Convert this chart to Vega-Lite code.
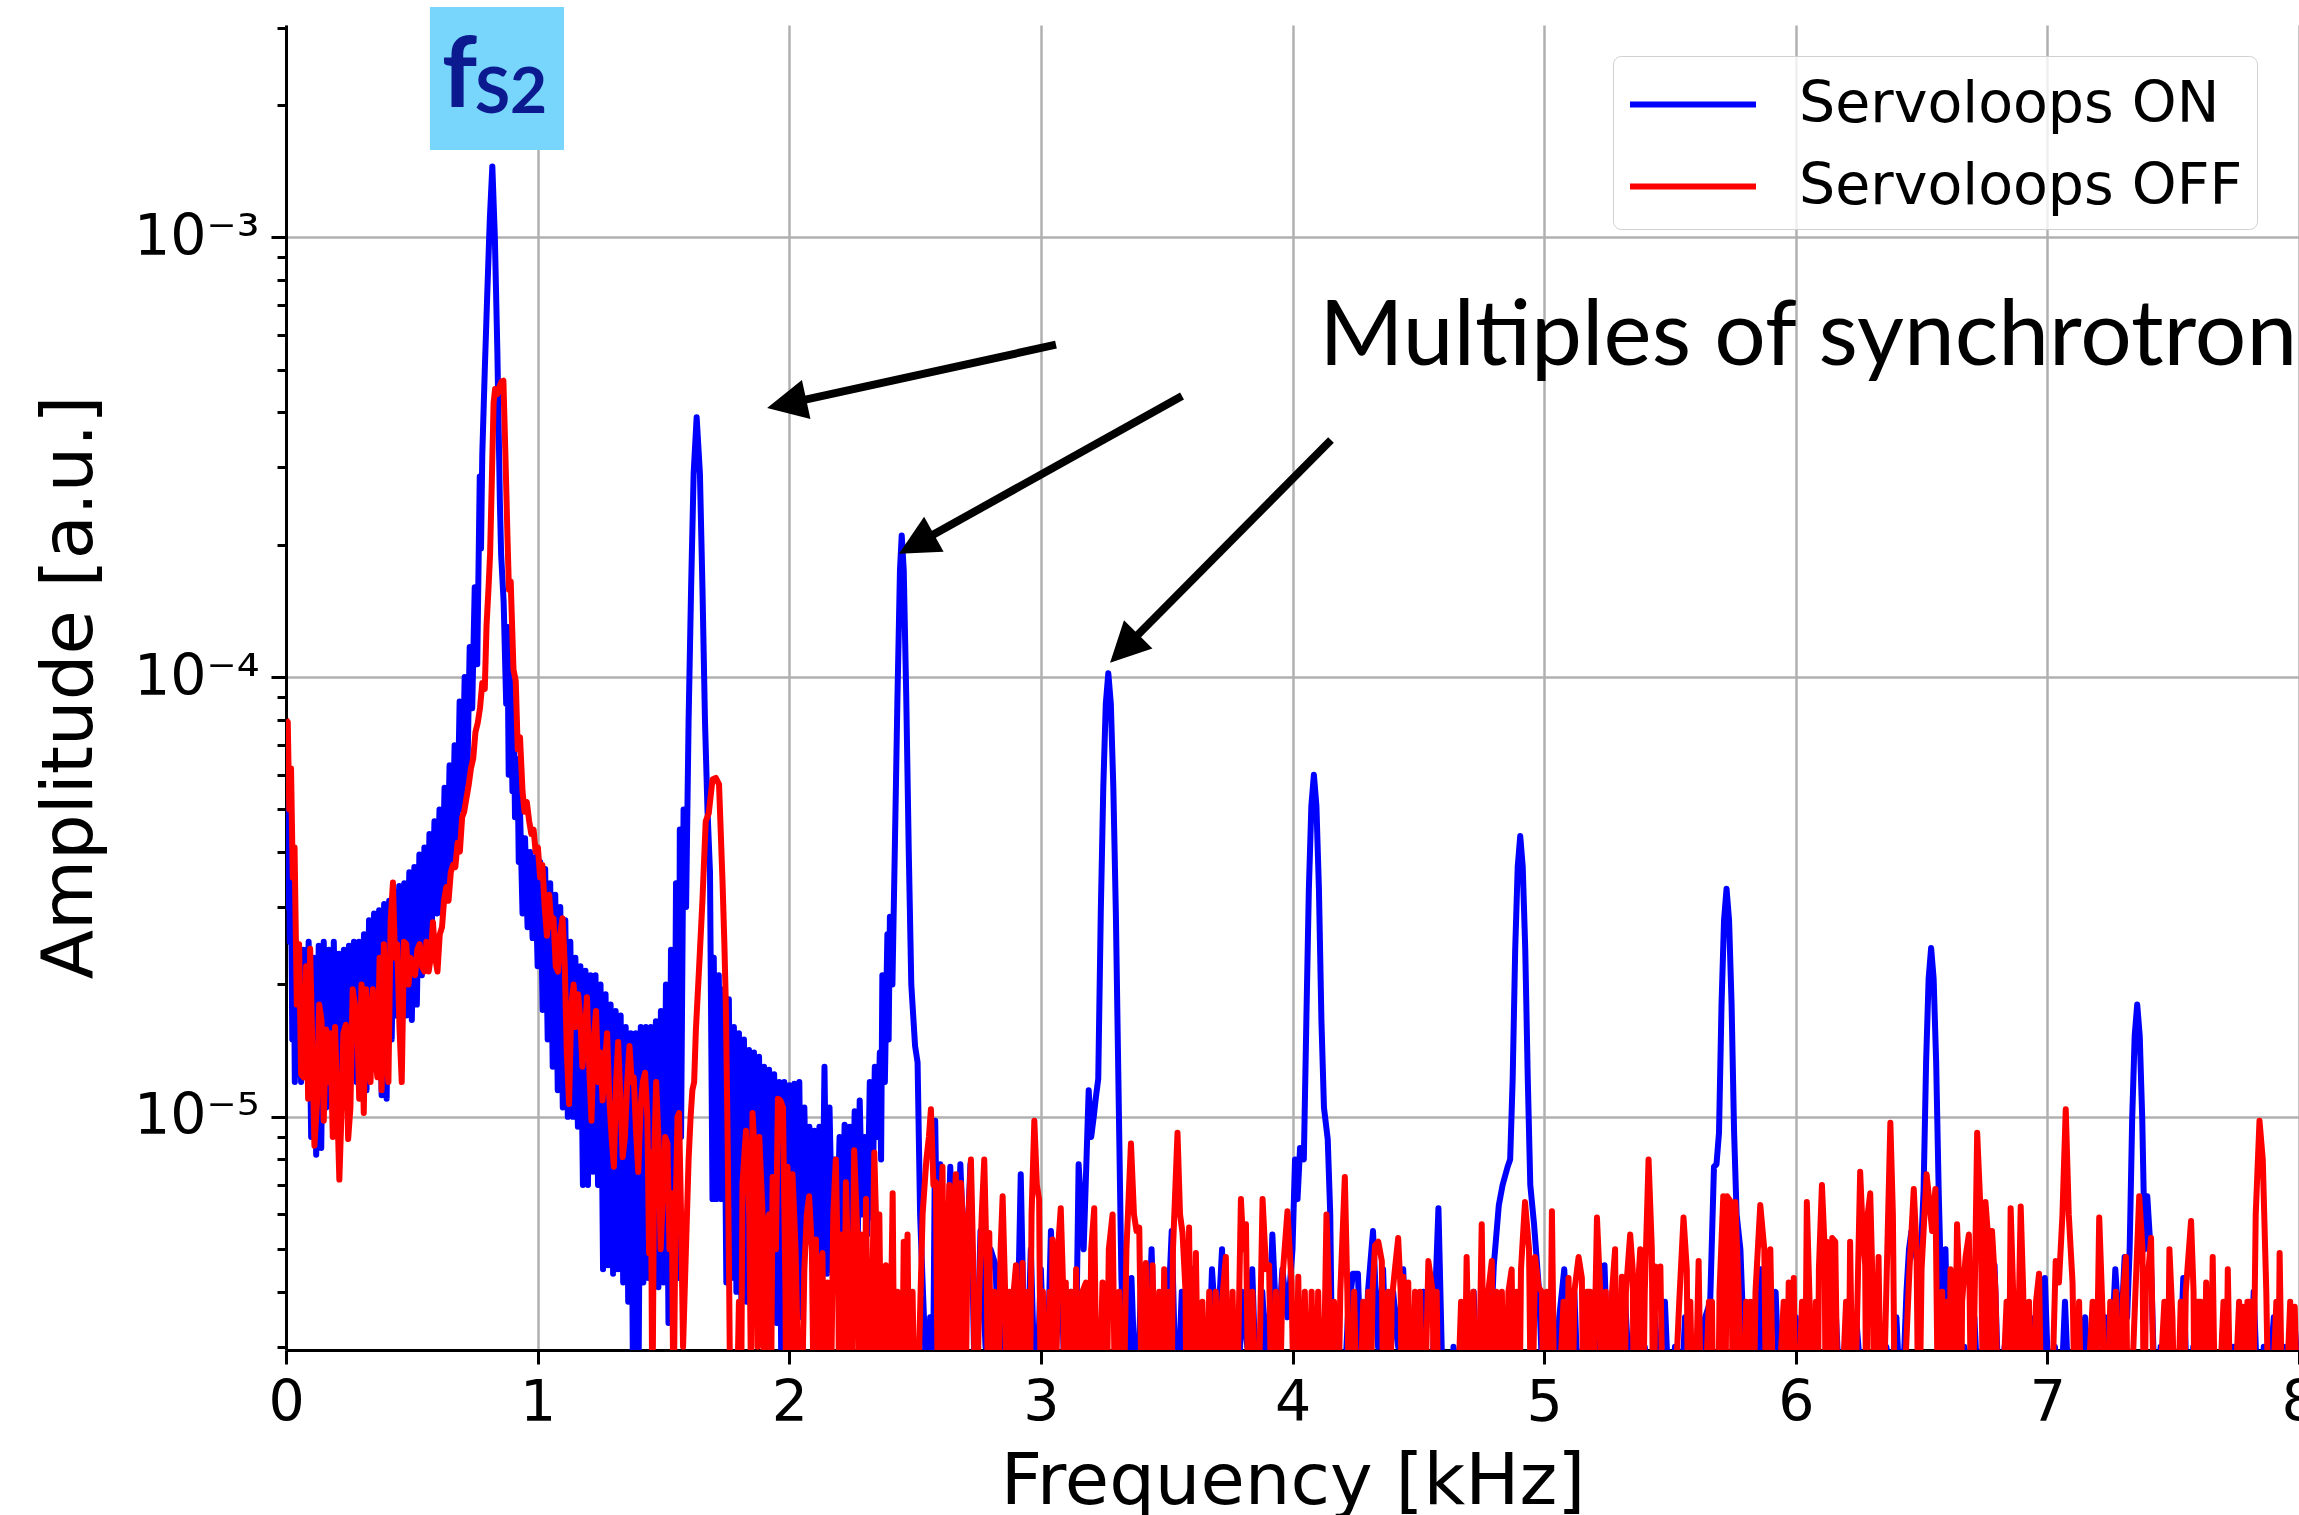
{
"$schema":"https://vega.github.io/schema/vega-lite/v6.json",
"autosize":"none",
"width":2013,"height":1325,
"padding":{"left":286,"top":25,"right":0,"bottom":165},
"background":"white",
"config":{"view":{"stroke":null}},
"datasets":{
"on":[{"f":0,"a":6.5e-5},{"f":0.005,"a":3e-5},{"f":0.01,"a":5.5e-5},{"f":0.015,"a":2.5e-5},{"f":0.02,"a":3.5e-5},{"f":0.025,"a":1.5e-5},{"f":0.03,"a":3e-5},{"f":0.035,"a":1.2e-5},{"f":0.04,"a":2.5e-5},{"f":0.045,"a":1.25e-5},{"f":0.05,"a":2.45e-5},{"f":0.06,"a":1.2e-5},{"f":0.07,"a":2.4e-5},{"f":0.08,"a":1.25e-5},{"f":0.09,"a":2.5e-5},{"f":0.1,"a":9e-6},{"f":0.11,"a":2.3e-5},{"f":0.12,"a":8.2e-6},{"f":0.13,"a":2.45e-5},{"f":0.14,"a":8.5e-6},{"f":0.15,"a":2.5e-5},{"f":0.16,"a":1.05e-5},{"f":0.17,"a":2.4e-5},{"f":0.18,"a":1.2e-5},{"f":0.19,"a":2.5e-5},{"f":0.2,"a":1.15e-5},{"f":0.21,"a":2.35e-5},{"f":0.22,"a":1.25e-5},{"f":0.23,"a":2.4e-5},{"f":0.24,"a":1.2e-5},{"f":0.25,"a":2.45e-5},{"f":0.26,"a":1.3e-5},{"f":0.27,"a":2.5e-5},{"f":0.28,"a":1.2e-5},{"f":0.29,"a":2.5e-5},{"f":0.3,"a":1.35e-5},{"f":0.31,"a":2.6e-5},{"f":0.32,"a":1.15e-5},{"f":0.33,"a":2.8e-5},{"f":0.34,"a":1.4e-5},{"f":0.35,"a":2.9e-5},{"f":0.36,"a":1.5e-5},{"f":0.37,"a":2.95e-5},{"f":0.38,"a":1.12e-5},{"f":0.39,"a":3.05e-5},{"f":0.4,"a":1.1e-5},{"f":0.41,"a":3.1e-5},{"f":0.42,"a":1.5e-5},{"f":0.43,"a":3.25e-5},{"f":0.44,"a":1.7e-5},{"f":0.45,"a":3.35e-5},{"f":0.46,"a":1.85e-5},{"f":0.47,"a":3.4e-5},{"f":0.48,"a":1.7e-5},{"f":0.49,"a":3.6e-5},{"f":0.5,"a":1.66e-5},{"f":0.51,"a":3.7e-5},{"f":0.52,"a":1.8e-5},{"f":0.53,"a":3.95e-5},{"f":0.54,"a":2.1e-5},{"f":0.55,"a":4.1e-5},{"f":0.56,"a":2.3e-5},{"f":0.57,"a":4.4e-5},{"f":0.58,"a":2.8e-5},{"f":0.59,"a":4.7e-5},{"f":0.6,"a":2.9e-5},{"f":0.61,"a":5e-5},{"f":0.62,"a":2.9e-5},{"f":0.63,"a":5.6e-5},{"f":0.64,"a":3.3e-5},{"f":0.65,"a":6.3e-5},{"f":0.66,"a":3.7e-5},{"f":0.67,"a":7e-5},{"f":0.68,"a":4.2e-5},{"f":0.69,"a":8.8e-5},{"f":0.7,"a":5e-5},{"f":0.71,"a":1e-4},{"f":0.72,"a":5.7e-5},{"f":0.73,"a":1.17e-4},{"f":0.74,"a":8.5e-5},{"f":0.75,"a":1.6e-4},{"f":0.76,"a":1.07e-4},{"f":0.77,"a":2.86e-4},{"f":0.775,"a":1.96e-4},{"f":0.78,"a":3.2e-4},{"f":0.79,"a":5e-4},{"f":0.8,"a":7.5e-4},{"f":0.81,"a":1.1e-3},{"f":0.82,"a":1.45e-3},{"f":0.83,"a":1e-3},{"f":0.84,"a":5.5e-4},{"f":0.85,"a":2.5e-4},{"f":0.855,"a":1.9e-4},{"f":0.865,"a":1.48e-4},{"f":0.875,"a":8.7e-5},{"f":0.88,"a":1.3e-4},{"f":0.885,"a":6e-5},{"f":0.89,"a":1.2e-4},{"f":0.9,"a":5.5e-5},{"f":0.905,"a":9e-5},{"f":0.91,"a":4.8e-5},{"f":0.92,"a":6.5e-5},{"f":0.925,"a":3.8e-5},{"f":0.93,"a":5e-5},{"f":0.94,"a":2.9e-5},{"f":0.95,"a":4.3e-5},{"f":0.96,"a":2.7e-5},{"f":0.97,"a":4e-5},{"f":0.98,"a":2.55e-5},{"f":0.99,"a":3.9e-5},{"f":1,"a":2.2e-5},{"f":1.01,"a":3.8e-5},{"f":1.02,"a":1.75e-5},{"f":1.03,"a":3.66e-5},{"f":1.04,"a":1.5e-5},{"f":1.05,"a":3.4e-5},{"f":1.06,"a":1.3e-5},{"f":1.07,"a":3.2e-5},{"f":1.08,"a":1.15e-5},{"f":1.09,"a":3e-5},{"f":1.1,"a":1.05e-5},{"f":1.11,"a":2.8e-5},{"f":1.12,"a":1e-5},{"f":1.13,"a":2.5e-5},{"f":1.14,"a":1e-5},{"f":1.15,"a":2.3e-5},{"f":1.16,"a":9.5e-6},{"f":1.17,"a":2.2e-5},{"f":1.18,"a":7e-6},{"f":1.19,"a":2.15e-5},{"f":1.2,"a":7e-6},{"f":1.21,"a":2.1e-5},{"f":1.22,"a":7.5e-6},{"f":1.23,"a":2.1e-5},{"f":1.24,"a":7e-6},{"f":1.25,"a":2e-5},{"f":1.26,"a":4.5e-6},{"f":1.27,"a":1.9e-5},{"f":1.28,"a":4.6e-6},{"f":1.29,"a":1.8e-5},{"f":1.3,"a":4.4e-6},{"f":1.31,"a":1.74e-5},{"f":1.32,"a":4.5e-6},{"f":1.33,"a":1.7e-5},{"f":1.34,"a":4.2e-6},{"f":1.35,"a":1.6e-5},{"f":1.36,"a":3.8e-6},{"f":1.37,"a":1.55e-5},{"f":1.38,"a":2e-6},{"f":1.39,"a":1.55e-5},{"f":1.4,"a":2e-6},{"f":1.41,"a":1.6e-5},{"f":1.42,"a":4.2e-6},{"f":1.43,"a":1.6e-5},{"f":1.44,"a":4.3e-6},{"f":1.45,"a":1.6e-5},{"f":1.46,"a":4.2e-6},{"f":1.47,"a":1.65e-5},{"f":1.48,"a":4.1e-6},{"f":1.49,"a":1.74e-5},{"f":1.5,"a":4.2e-6},{"f":1.51,"a":2e-5},{"f":1.52,"a":3.4e-6},{"f":1.53,"a":2.4e-5},{"f":1.54,"a":3.8e-6},{"f":1.55,"a":3.4e-5},{"f":1.56,"a":4.3e-6},{"f":1.565,"a":4.5e-5},{"f":1.57,"a":9e-6},{"f":1.58,"a":5e-5},{"f":1.59,"a":3e-5},{"f":1.6,"a":8e-5},{"f":1.61,"a":1.6e-4},{"f":1.62,"a":2.9e-4},{"f":1.632,"a":3.9e-4},{"f":1.645,"a":2.9e-4},{"f":1.655,"a":1.6e-4},{"f":1.665,"a":8e-5},{"f":1.675,"a":5e-5},{"f":1.685,"a":3.6e-5},{"f":1.695,"a":6.5e-6},{"f":1.7,"a":2.3e-5},{"f":1.71,"a":6.5e-6},{"f":1.72,"a":2.1e-5},{"f":1.73,"a":6.5e-6},{"f":1.74,"a":1.95e-5},{"f":1.75,"a":4.2e-6},{"f":1.76,"a":1.85e-5},{"f":1.77,"a":4.3e-6},{"f":1.78,"a":1.6e-5},{"f":1.79,"a":4e-6},{"f":1.8,"a":1.55e-5},{"f":1.81,"a":3.8e-6},{"f":1.82,"a":1.5e-5},{"f":1.83,"a":3.8e-6},{"f":1.84,"a":1.42e-5},{"f":1.85,"a":4.3e-6},{"f":1.86,"a":1.4e-5},{"f":1.87,"a":3.7e-6},{"f":1.88,"a":1.37e-5},{"f":1.89,"a":5e-6},{"f":1.9,"a":1.3e-5},{"f":1.91,"a":5.5e-6},{"f":1.92,"a":1.28e-5},{"f":1.93,"a":4.5e-6},{"f":1.94,"a":1.25e-5},{"f":1.95,"a":3.4e-6},{"f":1.96,"a":1.2e-5},{"f":1.97,"a":2e-6},{"f":1.98,"a":1.2e-5},{"f":1.99,"a":2.9e-6},{"f":2,"a":1.18e-5},{"f":2.01,"a":5.4e-6},{"f":2.02,"a":1.19e-5},{"f":2.03,"a":4e-6},{"f":2.04,"a":1.2e-5},{"f":2.05,"a":3.5e-6},{"f":2.06,"a":1.05e-5},{"f":2.07,"a":5.2e-6},{"f":2.08,"a":9.5e-6},{"f":2.09,"a":5.2e-6},{"f":2.1,"a":9.3e-6},{"f":2.11,"a":4.5e-6},{"f":2.12,"a":9.5e-6},{"f":2.13,"a":4.3e-6},{"f":2.14,"a":1.3e-5},{"f":2.15,"a":4.4e-6},{"f":2.16,"a":1.05e-5},{"f":2.17,"a":5.5e-6},{"f":2.18,"a":8e-6},{"f":2.19,"a":5.4e-6},{"f":2.2,"a":9e-6},{"f":2.21,"a":5e-6},{"f":2.22,"a":9.6e-6},{"f":2.23,"a":4.6e-6},{"f":2.24,"a":9.5e-6},{"f":2.25,"a":5e-6},{"f":2.26,"a":1.03e-5},{"f":2.27,"a":4.2e-6},{"f":2.28,"a":1.09e-5},{"f":2.29,"a":6e-6},{"f":2.3,"a":9e-6},{"f":2.31,"a":5.4e-6},{"f":2.32,"a":1.2e-5},{"f":2.33,"a":5.9e-6},{"f":2.34,"a":1.3e-5},{"f":2.35,"a":9e-6},{"f":2.36,"a":1.4e-5},{"f":2.365,"a":8e-6},{"f":2.37,"a":2.1e-5},{"f":2.38,"a":1.2e-5},{"f":2.39,"a":2.6e-5},{"f":2.395,"a":1.5e-5},{"f":2.4,"a":2.85e-5},{"f":2.41,"a":2e-5},{"f":2.42,"a":4.2e-5},{"f":2.43,"a":9e-5},{"f":2.44,"a":1.75e-4},{"f":2.447,"a":2.1e-4},{"f":2.455,"a":1.75e-4},{"f":2.465,"a":9e-5},{"f":2.475,"a":4e-5},{"f":2.485,"a":2e-5},{"f":2.5,"a":1.45e-5},{"f":2.51,"a":1.33e-5},{"f":2.52,"a":6e-6},{"f":2.53,"a":4.2e-6},{"f":2.54,"a":3e-6},{"f":2.55,"a":2e-6},{"f":2.56,"a":3.5e-6},{"f":2.57,"a":2e-6},{"f":2.58,"a":9.8e-6},{"f":2.59,"a":4e-6},{"f":2.6,"a":7.8e-6},{"f":2.62,"a":3e-6},{"f":2.64,"a":7.7e-6},{"f":2.66,"a":3.5e-6},{"f":2.68,"a":7.8e-6},{"f":2.7,"a":4e-6},{"f":2.72,"a":7.8e-6},{"f":2.74,"a":2e-6},{"f":2.76,"a":5.5e-6},{"f":2.78,"a":3e-6},{"f":2.8,"a":5e-6},{"f":2.82,"a":4.6e-6},{"f":2.84,"a":2e-6},{"f":2.86,"a":4e-6},{"f":2.88,"a":3e-6},{"f":2.9,"a":2e-6},{"f":2.92,"a":7.4e-6},{"f":2.94,"a":2e-6},{"f":2.96,"a":5e-6},{"f":2.98,"a":2e-6},{"f":3,"a":4.5e-6},{"f":3.02,"a":2e-6},{"f":3.04,"a":5.5e-6},{"f":3.06,"a":3e-6},{"f":3.08,"a":4.5e-6},{"f":3.1,"a":2e-6},{"f":3.12,"a":4e-6},{"f":3.14,"a":3e-6},{"f":3.15,"a":7.8e-6},{"f":3.17,"a":5e-6},{"f":3.19,"a":1.15e-5},{"f":3.2,"a":9e-6},{"f":3.21,"a":1e-5},{"f":3.218,"a":1.1e-5},{"f":3.228,"a":1.22e-5},{"f":3.238,"a":2.9e-5},{"f":3.248,"a":5.6e-5},{"f":3.258,"a":8.7e-5},{"f":3.268,"a":1.02e-4},{"f":3.278,"a":8.7e-5},{"f":3.288,"a":5.6e-5},{"f":3.298,"a":2.9e-5},{"f":3.308,"a":1.22e-5},{"f":3.32,"a":4.3e-6},{"f":3.34,"a":2e-6},{"f":3.36,"a":4.3e-6},{"f":3.38,"a":2e-6},{"f":3.4,"a":4.5e-6},{"f":3.42,"a":2.5e-6},{"f":3.44,"a":5e-6},{"f":3.46,"a":2e-6},{"f":3.48,"a":4e-6},{"f":3.5,"a":3e-6},{"f":3.52,"a":5.5e-6},{"f":3.54,"a":2e-6},{"f":3.56,"a":4e-6},{"f":3.58,"a":2.5e-6},{"f":3.6,"a":4.5e-6},{"f":3.62,"a":2e-6},{"f":3.64,"a":3.5e-6},{"f":3.66,"a":2e-6},{"f":3.68,"a":4.5e-6},{"f":3.7,"a":3e-6},{"f":3.72,"a":5e-6},{"f":3.74,"a":2e-6},{"f":3.76,"a":3.5e-6},{"f":3.78,"a":2e-6},{"f":3.8,"a":4e-6},{"f":3.82,"a":3e-6},{"f":3.84,"a":4.5e-6},{"f":3.86,"a":2e-6},{"f":3.88,"a":4e-6},{"f":3.9,"a":2.5e-6},{"f":3.92,"a":5.4e-6},{"f":3.94,"a":3e-6},{"f":3.96,"a":4.5e-6},{"f":3.98,"a":3.5e-6},{"f":4,"a":5e-6},{"f":4.01,"a":8e-6},{"f":4.02,"a":6.5e-6},{"f":4.03,"a":8.5e-6},{"f":4.045,"a":8e-6},{"f":4.055,"a":1.65e-5},{"f":4.065,"a":3.3e-5},{"f":4.075,"a":5.1e-5},{"f":4.085,"a":6e-5},{"f":4.095,"a":5.1e-5},{"f":4.105,"a":3.3e-5},{"f":4.115,"a":1.65e-5},{"f":4.125,"a":1.05e-5},{"f":4.14,"a":8.9e-6},{"f":4.15,"a":6e-6},{"f":4.16,"a":2e-6},{"f":4.18,"a":3e-6},{"f":4.2,"a":2e-6},{"f":4.22,"a":3.5e-6},{"f":4.24,"a":4.4e-6},{"f":4.26,"a":4.4e-6},{"f":4.28,"a":2e-6},{"f":4.3,"a":4e-6},{"f":4.32,"a":5.5e-6},{"f":4.34,"a":3e-6},{"f":4.36,"a":4.5e-6},{"f":4.38,"a":2e-6},{"f":4.4,"a":4e-6},{"f":4.42,"a":3e-6},{"f":4.44,"a":4.5e-6},{"f":4.46,"a":2e-6},{"f":4.48,"a":3.5e-6},{"f":4.5,"a":2.5e-6},{"f":4.52,"a":4e-6},{"f":4.54,"a":2e-6},{"f":4.56,"a":3e-6},{"f":4.58,"a":6.2e-6},{"f":4.6,"a":2e-6},{"f":4.62,"a":2e-6},{"f":4.64,"a":3e-6},{"f":4.66,"a":2e-6},{"f":4.68,"a":3.5e-6},{"f":4.7,"a":2.5e-6},{"f":4.72,"a":4e-6},{"f":4.74,"a":2e-6},{"f":4.76,"a":3.5e-6},{"f":4.78,"a":2.5e-6},{"f":4.8,"a":4.6e-6},{"f":4.82,"a":6.3e-6},{"f":4.835,"a":7e-6},{"f":4.855,"a":7.7e-6},{"f":4.865,"a":8e-6},{"f":4.875,"a":1.22e-5},{"f":4.885,"a":2.4e-5},{"f":4.895,"a":3.7e-5},{"f":4.905,"a":4.35e-5},{"f":4.915,"a":3.7e-5},{"f":4.925,"a":2.4e-5},{"f":4.935,"a":1.22e-5},{"f":4.945,"a":7e-6},{"f":4.96,"a":5.7e-6},{"f":4.98,"a":4e-6},{"f":5,"a":2e-6},{"f":5.02,"a":3e-6},{"f":5.04,"a":2e-6},{"f":5.06,"a":3.5e-6},{"f":5.08,"a":4.5e-6},{"f":5.1,"a":2.5e-6},{"f":5.12,"a":4e-6},{"f":5.14,"a":2e-6},{"f":5.16,"a":3e-6},{"f":5.18,"a":2e-6},{"f":5.2,"a":3.5e-6},{"f":5.22,"a":2.5e-6},{"f":5.24,"a":4.6e-6},{"f":5.26,"a":2e-6},{"f":5.28,"a":3.5e-6},{"f":5.3,"a":2e-6},{"f":5.32,"a":4e-6},{"f":5.34,"a":2.5e-6},{"f":5.36,"a":3.5e-6},{"f":5.38,"a":2e-6},{"f":5.4,"a":3e-6},{"f":5.42,"a":2e-6},{"f":5.44,"a":3.5e-6},{"f":5.46,"a":2.5e-6},{"f":5.48,"a":3.8e-6},{"f":5.5,"a":2e-6},{"f":5.52,"a":3e-6},{"f":5.54,"a":2e-6},{"f":5.56,"a":3.5e-6},{"f":5.58,"a":2e-6},{"f":5.6,"a":3e-6},{"f":5.62,"a":2.5e-6},{"f":5.64,"a":3.5e-6},{"f":5.66,"a":3.8e-6},{"f":5.675,"a":7.7e-6},{"f":5.685,"a":7.8e-6},{"f":5.695,"a":9.2e-6},{"f":5.705,"a":1.8e-5},{"f":5.715,"a":2.8e-5},{"f":5.725,"a":3.3e-5},{"f":5.735,"a":2.8e-5},{"f":5.745,"a":1.8e-5},{"f":5.755,"a":9.2e-6},{"f":5.765,"a":6e-6},{"f":5.78,"a":5e-6},{"f":5.79,"a":3.5e-6},{"f":5.8,"a":2e-6},{"f":5.82,"a":3.5e-6},{"f":5.84,"a":2e-6},{"f":5.86,"a":4.5e-6},{"f":5.88,"a":2.5e-6},{"f":5.9,"a":3.5e-6},{"f":5.92,"a":4e-6},{"f":5.94,"a":2e-6},{"f":5.96,"a":3e-6},{"f":5.98,"a":2e-6},{"f":6,"a":3.5e-6},{"f":6.02,"a":2e-6},{"f":6.04,"a":3e-6},{"f":6.06,"a":2e-6},{"f":6.08,"a":3.5e-6},{"f":6.1,"a":2e-6},{"f":6.12,"a":3e-6},{"f":6.14,"a":2.5e-6},{"f":6.16,"a":3.5e-6},{"f":6.18,"a":2e-6},{"f":6.2,"a":3e-6},{"f":6.22,"a":2e-6},{"f":6.24,"a":3.5e-6},{"f":6.26,"a":2.5e-6},{"f":6.28,"a":3e-6},{"f":6.3,"a":2e-6},{"f":6.32,"a":3.5e-6},{"f":6.34,"a":2e-6},{"f":6.36,"a":3e-6},{"f":6.38,"a":2.5e-6},{"f":6.4,"a":3.5e-6},{"f":6.42,"a":2e-6},{"f":6.44,"a":4e-6},{"f":6.45,"a":5e-6},{"f":6.46,"a":5.5e-6},{"f":6.488,"a":4.5e-6},{"f":6.498,"a":5e-6},{"f":6.508,"a":6.8e-6},{"f":6.518,"a":1.33e-5},{"f":6.528,"a":2.06e-5},{"f":6.538,"a":2.42e-5},{"f":6.548,"a":2.06e-5},{"f":6.558,"a":1.33e-5},{"f":6.568,"a":6.8e-6},{"f":6.578,"a":4e-6},{"f":6.595,"a":5e-6},{"f":6.61,"a":2e-6},{"f":6.63,"a":3.5e-6},{"f":6.65,"a":2e-6},{"f":6.67,"a":3e-6},{"f":6.69,"a":2e-6},{"f":6.71,"a":3.5e-6},{"f":6.73,"a":2e-6},{"f":6.75,"a":3e-6},{"f":6.77,"a":2.5e-6},{"f":6.79,"a":4.6e-6},{"f":6.81,"a":2e-6},{"f":6.83,"a":3e-6},{"f":6.85,"a":2e-6},{"f":6.87,"a":3.5e-6},{"f":6.89,"a":2e-6},{"f":6.91,"a":3e-6},{"f":6.93,"a":2.5e-6},{"f":6.95,"a":3.5e-6},{"f":6.97,"a":2e-6},{"f":6.99,"a":4.3e-6},{"f":7.01,"a":2e-6},{"f":7.03,"a":3e-6},{"f":7.05,"a":2e-6},{"f":7.07,"a":3.8e-6},{"f":7.09,"a":2e-6},{"f":7.11,"a":3e-6},{"f":7.13,"a":2.5e-6},{"f":7.15,"a":3.5e-6},{"f":7.17,"a":2e-6},{"f":7.19,"a":3e-6},{"f":7.21,"a":2e-6},{"f":7.23,"a":3.5e-6},{"f":7.25,"a":2.5e-6},{"f":7.27,"a":4.5e-6},{"f":7.29,"a":3e-6},{"f":7.307,"a":4.8e-6},{"f":7.317,"a":3.5e-6},{"f":7.327,"a":5e-6},{"f":7.337,"a":9.9e-6},{"f":7.347,"a":1.53e-5},{"f":7.357,"a":1.8e-5},{"f":7.367,"a":1.53e-5},{"f":7.377,"a":9.9e-6},{"f":7.387,"a":5e-6},{"f":7.397,"a":6.6e-6},{"f":7.41,"a":5e-6},{"f":7.43,"a":2e-6},{"f":7.45,"a":3e-6},{"f":7.47,"a":2e-6},{"f":7.49,"a":3.5e-6},{"f":7.51,"a":2e-6},{"f":7.53,"a":3e-6},{"f":7.54,"a":4.3e-6},{"f":7.56,"a":2e-6},{"f":7.58,"a":3e-6},{"f":7.6,"a":2e-6},{"f":7.62,"a":3.5e-6},{"f":7.64,"a":2.5e-6},{"f":7.66,"a":3e-6},{"f":7.68,"a":2e-6},{"f":7.7,"a":3.5e-6},{"f":7.72,"a":2e-6},{"f":7.74,"a":3e-6},{"f":7.76,"a":2.5e-6},{"f":7.78,"a":3.5e-6},{"f":7.8,"a":2e-6},{"f":7.82,"a":4e-6},{"f":7.84,"a":2e-6},{"f":7.86,"a":3e-6},{"f":7.88,"a":2.5e-6},{"f":7.9,"a":3.5e-6},{"f":7.92,"a":2e-6},{"f":7.94,"a":3e-6},{"f":7.96,"a":2e-6},{"f":7.98,"a":3.5e-6},{"f":8,"a":2.5e-6}],
"off":[{"f":0,"a":8e-5},{"f":0.007,"a":7.9e-5},{"f":0.013,"a":5e-5},{"f":0.02,"a":6.2e-5},{"f":0.027,"a":3.5e-5},{"f":0.034,"a":4.1e-5},{"f":0.043,"a":1.8e-5},{"f":0.052,"a":2.47e-5},{"f":0.06,"a":1.25e-5},{"f":0.07,"a":1.23e-5},{"f":0.08,"a":2.2e-5},{"f":0.088,"a":1.1e-5},{"f":0.096,"a":2.41e-5},{"f":0.105,"a":1.4e-5},{"f":0.113,"a":8.6e-6},{"f":0.123,"a":1.07e-5},{"f":0.132,"a":1.8e-5},{"f":0.141,"a":1.66e-5},{"f":0.15,"a":9.8e-6},{"f":0.159,"a":1.58e-5},{"f":0.168,"a":1.2e-5},{"f":0.176,"a":1.55e-5},{"f":0.186,"a":9e-6},{"f":0.195,"a":1.6e-5},{"f":0.203,"a":1.1e-5},{"f":0.212,"a":7.2e-6},{"f":0.22,"a":1e-5},{"f":0.228,"a":1.55e-5},{"f":0.238,"a":1.62e-5},{"f":0.247,"a":8.9e-6},{"f":0.256,"a":1.05e-5},{"f":0.265,"a":1.95e-5},{"f":0.274,"a":1.8e-5},{"f":0.283,"a":1.62e-5},{"f":0.291,"a":1.1e-5},{"f":0.3,"a":2e-5},{"f":0.309,"a":1.02e-5},{"f":0.318,"a":1.95e-5},{"f":0.327,"a":1.6e-5},{"f":0.336,"a":1.2e-5},{"f":0.345,"a":1.95e-5},{"f":0.354,"a":1.4e-5},{"f":0.363,"a":1.23e-5},{"f":0.372,"a":2.3e-5},{"f":0.38,"a":1.15e-5},{"f":0.389,"a":2.47e-5},{"f":0.398,"a":1.4e-5},{"f":0.407,"a":1.2e-5},{"f":0.416,"a":2.8e-5},{"f":0.425,"a":3.41e-5},{"f":0.433,"a":2.3e-5},{"f":0.442,"a":2.47e-5},{"f":0.451,"a":1.6e-5},{"f":0.46,"a":1.2e-5},{"f":0.469,"a":2.5e-5},{"f":0.478,"a":2.47e-5},{"f":0.487,"a":2e-5},{"f":0.495,"a":2.3e-5},{"f":0.504,"a":2.19e-5},{"f":0.513,"a":2.1e-5},{"f":0.522,"a":2.4e-5},{"f":0.531,"a":2.47e-5},{"f":0.54,"a":2.2e-5},{"f":0.55,"a":2.14e-5},{"f":0.558,"a":2.5e-5},{"f":0.567,"a":2.14e-5},{"f":0.575,"a":2.3e-5},{"f":0.584,"a":2.77e-5},{"f":0.593,"a":2.3e-5},{"f":0.602,"a":2.14e-5},{"f":0.611,"a":2.6e-5},{"f":0.62,"a":2.7e-5},{"f":0.628,"a":3.1e-5},{"f":0.637,"a":3.33e-5},{"f":0.646,"a":3.1e-5},{"f":0.655,"a":3.6e-5},{"f":0.664,"a":3.74e-5},{"f":0.673,"a":3.7e-5},{"f":0.682,"a":4.2e-5},{"f":0.691,"a":4.01e-5},{"f":0.7,"a":4.8e-5},{"f":0.708,"a":4.94e-5},{"f":0.717,"a":5.3e-5},{"f":0.726,"a":5.68e-5},{"f":0.735,"a":6.2e-5},{"f":0.744,"a":6.53e-5},{"f":0.753,"a":7.5e-5},{"f":0.762,"a":7.87e-5},{"f":0.771,"a":8.5e-5},{"f":0.78,"a":9.7e-5},{"f":0.79,"a":9.4e-5},{"f":0.797,"a":1.31e-4},{"f":0.805,"a":1.6e-4},{"f":0.811,"a":1.9e-4},{"f":0.818,"a":2.8e-4},{"f":0.825,"a":4.2e-4},{"f":0.831,"a":4.52e-4},{"f":0.84,"a":4.4e-4},{"f":0.85,"a":4.6e-4},{"f":0.857,"a":4.7e-4},{"f":0.864,"a":4.72e-4},{"f":0.872,"a":3.2e-4},{"f":0.88,"a":2.1e-4},{"f":0.886,"a":1.58e-4},{"f":0.893,"a":1.65e-4},{"f":0.904,"a":1.04e-4},{"f":0.913,"a":9.8e-5},{"f":0.921,"a":6.85e-5},{"f":0.93,"a":7.3e-5},{"f":0.94,"a":5.5e-5},{"f":0.948,"a":4.94e-5},{"f":0.957,"a":5.2e-5},{"f":0.966,"a":4.72e-5},{"f":0.975,"a":4.4e-5},{"f":0.984,"a":4.5e-5},{"f":0.992,"a":4.01e-5},{"f":1.001,"a":4.1e-5},{"f":1.01,"a":3.5e-5},{"f":1.019,"a":3.74e-5},{"f":1.028,"a":3e-5},{"f":1.037,"a":2.58e-5},{"f":1.046,"a":3.2e-5},{"f":1.055,"a":2.7e-5},{"f":1.063,"a":2.83e-5},{"f":1.072,"a":2.2e-5},{"f":1.081,"a":2.14e-5},{"f":1.09,"a":2.6e-5},{"f":1.099,"a":2.83e-5},{"f":1.108,"a":2.2e-5},{"f":1.116,"a":1.4e-5},{"f":1.125,"a":1.07e-5},{"f":1.134,"a":1.8e-5},{"f":1.143,"a":2e-5},{"f":1.152,"a":1.6e-5},{"f":1.161,"a":1.9e-5},{"f":1.17,"a":1.66e-5},{"f":1.178,"a":1.3e-5},{"f":1.187,"a":1.5e-5},{"f":1.196,"a":1.87e-5},{"f":1.205,"a":1.3e-5},{"f":1.214,"a":9.8e-6},{"f":1.223,"a":1.5e-5},{"f":1.232,"a":1.74e-5},{"f":1.241,"a":1.2e-5},{"f":1.25,"a":1.4e-5},{"f":1.258,"a":1.09e-5},{"f":1.267,"a":1.3e-5},{"f":1.276,"a":1.55e-5},{"f":1.285,"a":1.1e-5},{"f":1.294,"a":9e-6},{"f":1.303,"a":7.7e-6},{"f":1.312,"a":1.2e-5},{"f":1.32,"a":1.48e-5},{"f":1.329,"a":1.1e-5},{"f":1.338,"a":8.1e-6},{"f":1.347,"a":9e-6},{"f":1.356,"a":1.2e-5},{"f":1.365,"a":1.45e-5},{"f":1.374,"a":1.2e-5},{"f":1.382,"a":1.23e-5},{"f":1.391,"a":9.3e-6},{"f":1.4,"a":7.5e-6},{"f":1.409,"a":1.05e-5},{"f":1.418,"a":1.2e-5},{"f":1.427,"a":1.26e-5},{"f":1.436,"a":1e-5},{"f":1.443,"a":4.9e-6},{"f":1.45,"a":8.3e-6},{"f":1.456,"a":2e-6},{"f":1.463,"a":8e-6},{"f":1.471,"a":1.2e-5},{"f":1.48,"a":9e-6},{"f":1.489,"a":5e-6},{"f":1.498,"a":6.7e-6},{"f":1.507,"a":9e-6},{"f":1.516,"a":8.7e-6},{"f":1.524,"a":5e-6},{"f":1.533,"a":6.7e-6},{"f":1.54,"a":2e-6},{"f":1.548,"a":6e-6},{"f":1.556,"a":1e-5},{"f":1.562,"a":1.02e-5},{"f":1.57,"a":6e-6},{"f":1.578,"a":3e-6},{"f":1.589,"a":4.9e-6},{"f":1.6,"a":8e-6},{"f":1.608,"a":1e-5},{"f":1.615,"a":1.15e-5},{"f":1.622,"a":1.2e-5},{"f":1.629,"a":1.58e-5},{"f":1.642,"a":2.2e-5},{"f":1.655,"a":3.1e-5},{"f":1.668,"a":4.7e-5},{"f":1.68,"a":4.9e-5},{"f":1.695,"a":5.85e-5},{"f":1.708,"a":5.9e-5},{"f":1.721,"a":5.7e-5},{"f":1.735,"a":3.4e-5},{"f":1.742,"a":2.5e-5},{"f":1.748,"a":1.8e-5},{"f":1.755,"a":9e-6},{"f":1.761,"a":4.3e-6},{"f":1.768,"a":1.5e-6},{"f":1.787,"a":1.5e-6},{"f":1.8,"a":3.8e-6},{"f":1.807,"a":1.5e-6},{"f":1.814,"a":7e-6},{"f":1.828,"a":9.3e-6},{"f":1.841,"a":6e-6},{"f":1.848,"a":2.5e-6},{"f":1.854,"a":1.02e-5},{"f":1.867,"a":7.5e-6},{"f":1.874,"a":3e-6},{"f":1.881,"a":9e-6},{"f":1.894,"a":6e-6},{"f":1.9,"a":2e-6},{"f":1.907,"a":5.5e-6},{"f":1.92,"a":6e-6},{"f":1.927,"a":2e-6},{"f":1.934,"a":7.3e-6},{"f":1.947,"a":5e-6},{"f":1.955,"a":1.1e-5},{"f":1.965,"a":1.09e-5},{"f":1.975,"a":1.05e-5},{"f":1.985,"a":4e-6},{"f":1.989,"a":1.5e-6},{"f":1.993,"a":7.7e-6},{"f":2.003,"a":5e-6},{"f":2.008,"a":1.5e-6},{"f":2.013,"a":7.4e-6},{"f":2.025,"a":5e-6},{"f":2.045,"a":1.5e-6},{"f":2.06,"a":4.5e-6},{"f":2.07,"a":6e-6},{"f":2.079,"a":6.6e-6},{"f":2.09,"a":5e-6},{"f":2.1,"a":1.5e-6},{"f":2.106,"a":5.26e-6},{"f":2.115,"a":1.5e-6},{"f":2.125,"a":4.6e-6},{"f":2.132,"a":4.9e-6},{"f":2.142,"a":1.5e-6},{"f":2.152,"a":4.2e-6},{"f":2.162,"a":1.5e-6},{"f":2.175,"a":6e-6},{"f":2.185,"a":8e-6},{"f":2.195,"a":4e-6},{"f":2.2,"a":1.5e-6},{"f":2.205,"a":5.4e-6},{"f":2.215,"a":1.5e-6},{"f":2.225,"a":7.1e-6},{"f":2.235,"a":4.5e-6},{"f":2.245,"a":1.5e-6},{"f":2.258,"a":8.4e-6},{"f":2.27,"a":5.5e-6},{"f":2.278,"a":2e-6},{"f":2.285,"a":5.4e-6},{"f":2.295,"a":1.5e-6},{"f":2.305,"a":6.5e-6},{"f":2.32,"a":1.5e-6},{"f":2.338,"a":8.3e-6},{"f":2.348,"a":5e-6},{"f":2.353,"a":2e-6},{"f":2.358,"a":6e-6},{"f":2.37,"a":1.5e-6},{"f":2.384,"a":4.6e-6},{"f":2.395,"a":1.5e-6},{"f":2.411,"a":6.7e-6},{"f":2.42,"a":1.5e-6},{"f":2.43,"a":4e-6},{"f":2.445,"a":1.5e-6},{"f":2.455,"a":5.2e-6},{"f":2.462,"a":2e-6},{"f":2.47,"a":5.4e-6},{"f":2.48,"a":1.5e-6},{"f":2.49,"a":4e-6},{"f":2.503,"a":1.5e-6},{"f":2.53,"a":6e-6},{"f":2.545,"a":8e-6},{"f":2.555,"a":9e-6},{"f":2.563,"a":1.04e-5},{"f":2.573,"a":7e-6},{"f":2.583,"a":7.1e-6},{"f":2.593,"a":1.5e-6},{"f":2.603,"a":6e-6},{"f":2.609,"a":7.7e-6},{"f":2.62,"a":2e-6},{"f":2.63,"a":5e-6},{"f":2.636,"a":7e-6},{"f":2.645,"a":1.5e-6},{"f":2.655,"a":6e-6},{"f":2.662,"a":7.4e-6},{"f":2.672,"a":2e-6},{"f":2.682,"a":7.07e-6},{"f":2.692,"a":5.5e-6},{"f":2.7,"a":2e-6},{"f":2.709,"a":5.4e-6},{"f":2.722,"a":8e-6},{"f":2.73,"a":5e-6},{"f":2.742,"a":1.5e-6},{"f":2.755,"a":4e-6},{"f":2.765,"a":6e-6},{"f":2.775,"a":8e-6},{"f":2.785,"a":4.5e-6},{"f":2.79,"a":2e-6},{"f":2.795,"a":5.44e-6},{"f":2.805,"a":1.5e-6},{"f":2.815,"a":4e-6},{"f":2.825,"a":1.5e-6},{"f":2.84,"a":5e-6},{"f":2.848,"a":6.6e-6},{"f":2.858,"a":4e-6},{"f":2.866,"a":1.5e-6},{"f":2.874,"a":4e-6},{"f":2.885,"a":1.5e-6},{"f":2.892,"a":4e-6},{"f":2.901,"a":4.6e-6},{"f":2.91,"a":1.5e-6},{"f":2.927,"a":4.65e-6},{"f":2.935,"a":1.5e-6},{"f":2.947,"a":4e-6},{"f":2.954,"a":1.5e-6},{"f":2.963,"a":6e-6},{"f":2.974,"a":9.8e-6},{"f":2.984,"a":7e-6},{"f":2.993,"a":6.5e-6},{"f":3,"a":2e-6},{"f":3.008,"a":4e-6},{"f":3.02,"a":1.5e-6},{"f":3.035,"a":4e-6},{"f":3.04,"a":1.5e-6},{"f":3.046,"a":5.26e-6},{"f":3.056,"a":1.5e-6},{"f":3.068,"a":5e-6},{"f":3.079,"a":6.2e-6},{"f":3.089,"a":4e-6},{"f":3.094,"a":1.5e-6},{"f":3.099,"a":4.2e-6},{"f":3.11,"a":1.5e-6},{"f":3.12,"a":4e-6},{"f":3.13,"a":1.5e-6},{"f":3.14,"a":4.5e-6},{"f":3.152,"a":1.5e-6},{"f":3.165,"a":4e-6},{"f":3.179,"a":4.2e-6},{"f":3.19,"a":1.5e-6},{"f":3.2,"a":5e-6},{"f":3.212,"a":6.2e-6},{"f":3.225,"a":1.5e-6},{"f":3.245,"a":4.2e-6},{"f":3.258,"a":1.5e-6},{"f":3.27,"a":5e-6},{"f":3.285,"a":6e-6},{"f":3.298,"a":1.5e-6},{"f":3.311,"a":4e-6},{"f":3.325,"a":1.5e-6},{"f":3.34,"a":5e-6},{"f":3.358,"a":8.7e-6},{"f":3.37,"a":6e-6},{"f":3.38,"a":5.5e-6},{"f":3.391,"a":5.6e-6},{"f":3.405,"a":1.5e-6},{"f":3.417,"a":4.65e-6},{"f":3.43,"a":1.5e-6},{"f":3.444,"a":4.6e-6},{"f":3.457,"a":1.5e-6},{"f":3.47,"a":4e-6},{"f":3.48,"a":1.5e-6},{"f":3.49,"a":4.5e-6},{"f":3.5,"a":1.5e-6},{"f":3.51,"a":4e-6},{"f":3.517,"a":1.5e-6},{"f":3.525,"a":5e-6},{"f":3.543,"a":9.2e-6},{"f":3.553,"a":6e-6},{"f":3.563,"a":5.44e-6},{"f":3.575,"a":4e-6},{"f":3.58,"a":1.5e-6},{"f":3.589,"a":5.6e-6},{"f":3.6,"a":1.5e-6},{"f":3.616,"a":4.9e-6},{"f":3.63,"a":1.5e-6},{"f":3.642,"a":3.8e-6},{"f":3.655,"a":1.5e-6},{"f":3.669,"a":4e-6},{"f":3.682,"a":1.5e-6},{"f":3.695,"a":4e-6},{"f":3.71,"a":1.5e-6},{"f":3.72,"a":3.8e-6},{"f":3.735,"a":4.8e-6},{"f":3.748,"a":1.5e-6},{"f":3.762,"a":4e-6},{"f":3.775,"a":1.5e-6},{"f":3.795,"a":6.5e-6},{"f":3.805,"a":5e-6},{"f":3.815,"a":5.7e-6},{"f":3.828,"a":1.5e-6},{"f":3.841,"a":4e-6},{"f":3.86,"a":1.5e-6},{"f":3.881,"a":6.5e-6},{"f":3.895,"a":4.5e-6},{"f":3.907,"a":4.6e-6},{"f":3.92,"a":1.5e-6},{"f":3.934,"a":4e-6},{"f":3.945,"a":1.5e-6},{"f":3.96,"a":4.3e-6},{"f":3.98,"a":6.1e-6},{"f":3.996,"a":4.2e-6},{"f":4.01,"a":1.5e-6},{"f":4.023,"a":4.33e-6},{"f":4.035,"a":1.5e-6},{"f":4.049,"a":4e-6},{"f":4.062,"a":1.5e-6},{"f":4.076,"a":4e-6},{"f":4.09,"a":1.5e-6},{"f":4.102,"a":4e-6},{"f":4.118,"a":1.5e-6},{"f":4.135,"a":6e-6},{"f":4.145,"a":4e-6},{"f":4.155,"a":1.5e-6},{"f":4.165,"a":3.8e-6},{"f":4.178,"a":1.5e-6},{"f":4.19,"a":4e-6},{"f":4.208,"a":7.3e-6},{"f":4.218,"a":4e-6},{"f":4.228,"a":1.5e-6},{"f":4.245,"a":4e-6},{"f":4.261,"a":1.5e-6},{"f":4.281,"a":3.8e-6},{"f":4.29,"a":1.5e-6},{"f":4.301,"a":4e-6},{"f":4.31,"a":2e-6},{"f":4.318,"a":4e-6},{"f":4.328,"a":5.1e-6},{"f":4.341,"a":5.2e-6},{"f":4.355,"a":4.7e-6},{"f":4.362,"a":1.5e-6},{"f":4.38,"a":4e-6},{"f":4.387,"a":1.5e-6},{"f":4.394,"a":3.8e-6},{"f":4.407,"a":4.5e-6},{"f":4.42,"a":5.3e-6},{"f":4.43,"a":4e-6},{"f":4.435,"a":1.5e-6},{"f":4.44,"a":4.33e-6},{"f":4.45,"a":1.5e-6},{"f":4.46,"a":4.2e-6},{"f":4.474,"a":1.5e-6},{"f":4.487,"a":4e-6},{"f":4.497,"a":1.5e-6},{"f":4.507,"a":4e-6},{"f":4.52,"a":1.5e-6},{"f":4.54,"a":4.7e-6},{"f":4.557,"a":4e-6},{"f":4.565,"a":1.5e-6},{"f":4.573,"a":4e-6},{"f":4.583,"a":1.5e-6},{"f":4.646,"a":1.5e-6},{"f":4.67,"a":3.8e-6},{"f":4.68,"a":1.5e-6},{"f":4.692,"a":4.8e-6},{"f":4.705,"a":2e-6},{"f":4.719,"a":4e-6},{"f":4.735,"a":1.5e-6},{"f":4.752,"a":5.7e-6},{"f":4.765,"a":1.5e-6},{"f":4.778,"a":4e-6},{"f":4.792,"a":4.7e-6},{"f":4.8,"a":1.5e-6},{"f":4.81,"a":4e-6},{"f":4.818,"a":1.5e-6},{"f":4.832,"a":4e-6},{"f":4.845,"a":1.5e-6},{"f":4.858,"a":4e-6},{"f":4.871,"a":4.5e-6},{"f":4.881,"a":1.5e-6},{"f":4.891,"a":4e-6},{"f":4.9,"a":1.5e-6},{"f":4.908,"a":4.5e-6},{"f":4.924,"a":6.4e-6},{"f":4.94,"a":5e-6},{"f":4.95,"a":1.5e-6},{"f":4.964,"a":4.8e-6},{"f":4.978,"a":4.1e-6},{"f":4.991,"a":4e-6},{"f":5,"a":1.5e-6},{"f":5.01,"a":4e-6},{"f":5.02,"a":1.5e-6},{"f":5.031,"a":6.1e-6},{"f":5.044,"a":1.5e-6},{"f":5.077,"a":3.8e-6},{"f":5.085,"a":1.5e-6},{"f":5.097,"a":4.3e-6},{"f":5.11,"a":1.5e-6},{"f":5.12,"a":4e-6},{"f":5.137,"a":4.8e-6},{"f":5.15,"a":4.3e-6},{"f":5.158,"a":1.5e-6},{"f":5.17,"a":4e-6},{"f":5.183,"a":4e-6},{"f":5.19,"a":1.5e-6},{"f":5.21,"a":5.9e-6},{"f":5.223,"a":4e-6},{"f":5.23,"a":1.5e-6},{"f":5.245,"a":4e-6},{"f":5.256,"a":1.5e-6},{"f":5.27,"a":4e-6},{"f":5.282,"a":5e-6},{"f":5.29,"a":1.5e-6},{"f":5.309,"a":4.33e-6},{"f":5.318,"a":1.5e-6},{"f":5.325,"a":4e-6},{"f":5.342,"a":5.4e-6},{"f":5.352,"a":4.5e-6},{"f":5.358,"a":1.5e-6},{"f":5.372,"a":4e-6},{"f":5.382,"a":5e-6},{"f":5.39,"a":1.5e-6},{"f":5.4,"a":4e-6},{"f":5.415,"a":8e-6},{"f":5.428,"a":5e-6},{"f":5.435,"a":1.5e-6},{"f":5.442,"a":4.57e-6},{"f":5.452,"a":4e-6},{"f":5.462,"a":4.57e-6},{"f":5.475,"a":1.5e-6},{"f":5.505,"a":1.5e-6},{"f":5.537,"a":3.8e-6},{"f":5.554,"a":5.9e-6},{"f":5.567,"a":4.5e-6},{"f":5.574,"a":1.5e-6},{"f":5.581,"a":3.8e-6},{"f":5.595,"a":1.5e-6},{"f":5.614,"a":4.7e-6},{"f":5.627,"a":1.5e-6},{"f":5.655,"a":3.8e-6},{"f":5.667,"a":3.8e-6},{"f":5.675,"a":1.5e-6},{"f":5.69,"a":1.5e-6},{"f":5.697,"a":4e-6},{"f":5.712,"a":6.6e-6},{"f":5.72,"a":2e-6},{"f":5.727,"a":6.6e-6},{"f":5.743,"a":6.4e-6},{"f":5.75,"a":2e-6},{"f":5.76,"a":6.4e-6},{"f":5.773,"a":4e-6},{"f":5.786,"a":1.5e-6},{"f":5.803,"a":3.8e-6},{"f":5.81,"a":1.5e-6},{"f":5.82,"a":3.8e-6},{"f":5.83,"a":1.5e-6},{"f":5.84,"a":4e-6},{"f":5.859,"a":6.3e-6},{"f":5.875,"a":5e-6},{"f":5.885,"a":1.5e-6},{"f":5.899,"a":5e-6},{"f":5.915,"a":1.5e-6},{"f":5.952,"a":3.8e-6},{"f":5.962,"a":1.5e-6},{"f":5.972,"a":4.2e-6},{"f":5.982,"a":1.5e-6},{"f":5.992,"a":4.3e-6},{"f":6,"a":1.5e-6},{"f":6.025,"a":3.8e-6},{"f":6.035,"a":1.5e-6},{"f":6.044,"a":6.4e-6},{"f":6.055,"a":3.8e-6},{"f":6.064,"a":1.5e-6},{"f":6.08,"a":3.8e-6},{"f":6.086,"a":1.5e-6},{"f":6.092,"a":4.5e-6},{"f":6.104,"a":7e-6},{"f":6.115,"a":5e-6},{"f":6.12,"a":1.5e-6},{"f":6.124,"a":5.2e-6},{"f":6.135,"a":5e-6},{"f":6.14,"a":2e-6},{"f":6.145,"a":5.3e-6},{"f":6.157,"a":5.2e-6},{"f":6.17,"a":1.5e-6},{"f":6.2,"a":3.8e-6},{"f":6.208,"a":1.5e-6},{"f":6.216,"a":5.2e-6},{"f":6.23,"a":1.5e-6},{"f":6.256,"a":7.5e-6},{"f":6.266,"a":5.5e-6},{"f":6.276,"a":4.6e-6},{"f":6.281,"a":1.5e-6},{"f":6.286,"a":6e-6},{"f":6.296,"a":6.7e-6},{"f":6.306,"a":4e-6},{"f":6.316,"a":1.5e-6},{"f":6.329,"a":4.8e-6},{"f":6.342,"a":1.5e-6},{"f":6.376,"a":9.7e-6},{"f":6.386,"a":6e-6},{"f":6.396,"a":1.5e-6},{"f":6.416,"a":1.5e-6},{"f":6.452,"a":4.5e-6},{"f":6.469,"a":6.85e-6},{"f":6.48,"a":5e-6},{"f":6.489,"a":1.5e-6},{"f":6.5,"a":4.5e-6},{"f":6.52,"a":7.4e-6},{"f":6.53,"a":6.5e-6},{"f":6.542,"a":5.5e-6},{"f":6.555,"a":6.85e-6},{"f":6.568,"a":1.5e-6},{"f":6.582,"a":4e-6},{"f":6.59,"a":1.5e-6},{"f":6.6,"a":3.8e-6},{"f":6.608,"a":1.5e-6},{"f":6.615,"a":4.5e-6},{"f":6.628,"a":1.5e-6},{"f":6.641,"a":5.7e-6},{"f":6.651,"a":4e-6},{"f":6.656,"a":1.5e-6},{"f":6.661,"a":3.8e-6},{"f":6.675,"a":4.8e-6},{"f":6.688,"a":5.4e-6},{"f":6.7,"a":1.5e-6},{"f":6.721,"a":9.2e-6},{"f":6.735,"a":6e-6},{"f":6.745,"a":2e-6},{"f":6.754,"a":6.4e-6},{"f":6.768,"a":5e-6},{"f":6.774,"a":2e-6},{"f":6.78,"a":5.5e-6},{"f":6.794,"a":4e-6},{"f":6.808,"a":1.5e-6},{"f":6.838,"a":3.8e-6},{"f":6.845,"a":1.5e-6},{"f":6.854,"a":6.2e-6},{"f":6.864,"a":4e-6},{"f":6.874,"a":1.5e-6},{"f":6.894,"a":6.25e-6},{"f":6.904,"a":4e-6},{"f":6.914,"a":1.5e-6},{"f":6.927,"a":3.8e-6},{"f":6.935,"a":1.5e-6},{"f":6.955,"a":3.8e-6},{"f":6.967,"a":4.4e-6},{"f":6.98,"a":1.5e-6},{"f":7.01,"a":1.5e-6},{"f":7.033,"a":4.7e-6},{"f":7.046,"a":4.2e-6},{"f":7.06,"a":6e-6},{"f":7.073,"a":1.04e-5},{"f":7.085,"a":6e-6},{"f":7.1,"a":4.2e-6},{"f":7.113,"a":1.5e-6},{"f":7.126,"a":3.8e-6},{"f":7.14,"a":1.5e-6},{"f":7.18,"a":3.8e-6},{"f":7.19,"a":1.5e-6},{"f":7.206,"a":5.9e-6},{"f":7.22,"a":3.5e-6},{"f":7.232,"a":1.5e-6},{"f":7.25,"a":3.8e-6},{"f":7.26,"a":1.5e-6},{"f":7.272,"a":4e-6},{"f":7.285,"a":1.5e-6},{"f":7.299,"a":3.8e-6},{"f":7.312,"a":4.8e-6},{"f":7.322,"a":1.5e-6},{"f":7.35,"a":4e-6},{"f":7.365,"a":6.6e-6},{"f":7.378,"a":5e-6},{"f":7.385,"a":1.5e-6},{"f":7.392,"a":4.5e-6},{"f":7.402,"a":4.5e-6},{"f":7.412,"a":5.3e-6},{"f":7.428,"a":1.5e-6},{"f":7.465,"a":3.8e-6},{"f":7.475,"a":1.5e-6},{"f":7.485,"a":5e-6},{"f":7.497,"a":3.5e-6},{"f":7.511,"a":1.5e-6},{"f":7.53,"a":3.8e-6},{"f":7.54,"a":1.5e-6},{"f":7.55,"a":4e-6},{"f":7.571,"a":5.8e-6},{"f":7.581,"a":4e-6},{"f":7.586,"a":1.5e-6},{"f":7.591,"a":3.8e-6},{"f":7.61,"a":3.8e-6},{"f":7.62,"a":1.5e-6},{"f":7.631,"a":4.2e-6},{"f":7.645,"a":1.5e-6},{"f":7.657,"a":4.8e-6},{"f":7.67,"a":1.5e-6},{"f":7.7,"a":3.8e-6},{"f":7.708,"a":1.5e-6},{"f":7.717,"a":4.5e-6},{"f":7.732,"a":1.5e-6},{"f":7.762,"a":3.8e-6},{"f":7.77,"a":1.5e-6},{"f":7.777,"a":3.7e-6},{"f":7.787,"a":1.5e-6},{"f":7.795,"a":3.8e-6},{"f":7.81,"a":3.8e-6},{"f":7.815,"a":1.5e-6},{"f":7.828,"a":6e-6},{"f":7.843,"a":9.8e-6},{"f":7.856,"a":8e-6},{"f":7.87,"a":4e-6},{"f":7.883,"a":1.5e-6},{"f":7.91,"a":3.8e-6},{"f":7.915,"a":1.5e-6},{"f":7.923,"a":4.9e-6},{"f":7.937,"a":1.5e-6},{"f":7.965,"a":3.8e-6},{"f":7.975,"a":1.5e-6},{"f":7.983,"a":3.7e-6},{"f":8,"a":1.5e-6}],
"box":[{"f":0.572,"f2":1.105,"a":1.58e-3,"a2":3.34e-3}],
"shafts":[{"id":1,"f":3.06,"a":5.7e-4,"f2":2.028,"a2":4.23e-4},{"id":2,"f":3.561,"a":4.36e-4,"f2":2.541,"a2":2.06e-4},{"id":3,"f":4.153,"a":3.46e-4,"f2":3.359,"a2":1.205e-4}],
"heads":[{"id":1,"f":1.912,"a":4.09e-4},{"id":2,"f":2.436,"a":1.908e-4},{"id":3,"f":3.275,"a":1.078e-4}],
"note":[{"f":4.106,"a":5.13e-4}],
"fpos":[{"f":0.62,"a":1.98e-3}],
"spos":[{"f":0.751,"a":1.92e-3}]
},
"layer":[
{"data":{"name":"on"},
 "mark":{"type":"line","strokeWidth":6,"clip":true,"strokeJoin":"round"},
 "encoding":{
  "x":{"field":"f","type":"quantitative","scale":{"domain":[0,8],"nice":false,"zero":false},
   "axis":{"values":[0,1,2,3,4,5,6,7,8],"format":"d","title":"Frequency [kHz]","grid":true,"gridColor":"#b0b0b0","gridWidth":2.5,"domainColor":"#000000","domainWidth":3,"tickColor":"#000000","tickWidth":3,"tickSize":14,"labelFont":"DejaVu Sans","labelFontSize":57,"labelColor":"#000000","labelPadding":11,"labelFlush":false,"labelOverlap":false,"titleFont":"DejaVu Sans","titleFontSize":72,"titleFontWeight":"normal","titleColor":"#000000","titleBaseline":"alphabetic","titleY":153}},
  "y":{"field":"a","type":"quantitative","scale":{"type":"log","domain":[2.95e-6,3.04e-3],"nice":false},
   "axis":{"orient":"left","values":[3e-6,4e-6,5e-6,6e-6,7e-6,8e-6,9e-6,1e-5,2e-5,3e-5,4e-5,5e-5,6e-5,7e-5,8e-5,9e-5,1e-4,2e-4,3e-4,4e-4,5e-4,6e-4,7e-4,8e-4,9e-4,1e-3,2e-3,3e-3],
    "labelExpr":"datum.value == 0.001 ? '10⁻³' : datum.value == 0.0001 ? '10⁻⁴' : datum.value == 0.00001 ? '10⁻⁵' : ''",
    "tickSize":{"condition":{"test":"datum.value == 0.001 || datum.value == 0.0001 || datum.value == 0.00001","value":15},"value":9},
    "gridOpacity":{"condition":{"test":"datum.value == 0.001 || datum.value == 0.0001 || datum.value == 0.00001","value":1},"value":0},
    "grid":true,"gridColor":"#b0b0b0","gridWidth":2.5,"domainColor":"#000000","domainWidth":3,"tickColor":"#000000","tickWidth":3,"labelFont":"DejaVu Sans","labelFontSize":57,"labelColor":"#000000","labelPadding":12,"labelBaseline":"middle","labelOverlap":false,
    "title":"Amplitude [a.u.]","titleFont":"DejaVu Sans","titleFontSize":72,"titleFontWeight":"normal","titleColor":"#000000","titleAngle":270,"titleAlign":"center","titleBaseline":"alphabetic","titleX":-195,"titleY":662}},
  "color":{"datum":"Servoloops ON","type":"nominal","scale":{"domain":["Servoloops ON","Servoloops OFF"],"range":["#0000ff","#ff0000"]},
   "legend":{"orient":"none","legendX":1327,"legendY":31,"title":null,"symbolType":"M-1,0H3","symbolStrokeWidth":6,"symbolSize":3969,"labelFont":"DejaVu Sans","labelFontSize":57,"labelColor":"#000000","labelLimit":0,"labelOffset":103,"rowPadding":19,"padding":14,"fillColor":"rgba(255,255,255,0.8)","strokeColor":"#d0d0d0","cornerRadius":8}}
 }},
{"data":{"name":"off"},
 "mark":{"type":"line","strokeWidth":6,"clip":true,"strokeJoin":"round"},
 "encoding":{
  "x":{"field":"f","type":"quantitative"},
  "y":{"field":"a","type":"quantitative"},
  "color":{"datum":"Servoloops OFF","type":"nominal"}
 }},
{"mark":{"type":"rule","color":"#000000","strokeWidth":3},"encoding":{"y":{"datum":0.00304,"type":"quantitative"}}},
{"data":{"name":"box"},"mark":{"type":"rect","color":"#78d6fc"},
 "encoding":{"x":{"field":"f","type":"quantitative"},"x2":{"field":"f2"},"y":{"field":"a","type":"quantitative"},"y2":{"field":"a2"}}},
{"data":{"name":"fpos"},"mark":{"type":"text","text":"f","font":"Lato","fontWeight":"bold","fontSize":98,"color":"#0b1a8f","align":"left","baseline":"alphabetic"},
 "encoding":{"x":{"field":"f","type":"quantitative"},"y":{"field":"a","type":"quantitative"}}},
{"data":{"name":"spos"},"mark":{"type":"text","text":"S2","font":"Lato","fontWeight":"bold","fontSize":64,"color":"#0b1a8f","align":"left","baseline":"alphabetic"},
 "encoding":{"x":{"field":"f","type":"quantitative"},"y":{"field":"a","type":"quantitative"}}},
{"data":{"name":"note"},"mark":{"type":"text","text":"Multiples of synchrotron","font":"Lato","fontSize":91,"color":"#000000","align":"left","baseline":"alphabetic"},
 "encoding":{"x":{"field":"f","type":"quantitative"},"y":{"field":"a","type":"quantitative"}}},
{"data":{"name":"shafts"},"mark":{"type":"rule","color":"#000000","strokeWidth":8,"strokeCap":"butt"},
 "encoding":{"x":{"field":"f","type":"quantitative"},"y":{"field":"a","type":"quantitative"},"x2":{"field":"f2"},"y2":{"field":"a2"}}},
{"data":{"name":"heads"},"transform":[{"filter":"datum.id == 1"}],"mark":{"type":"point","shape":"M0,0L0.5,1L-0.5,1Z","size":6400,"filled":true,"color":"#000000","opacity":1,"angle":257.7},
 "encoding":{"x":{"field":"f","type":"quantitative"},"y":{"field":"a","type":"quantitative"}}},
{"data":{"name":"heads"},"transform":[{"filter":"datum.id == 2"}],"mark":{"type":"point","shape":"M0,0L0.5,1L-0.5,1Z","size":6400,"filled":true,"color":"#000000","opacity":1,"angle":240.8},
 "encoding":{"x":{"field":"f","type":"quantitative"},"y":{"field":"a","type":"quantitative"}}},
{"data":{"name":"heads"},"transform":[{"filter":"datum.id == 3"}],"mark":{"type":"point","shape":"M0,0L0.5,1L-0.5,1Z","size":6400,"filled":true,"color":"#000000","opacity":1,"angle":224.7},
 "encoding":{"x":{"field":"f","type":"quantitative"},"y":{"field":"a","type":"quantitative"}}}
]
}
